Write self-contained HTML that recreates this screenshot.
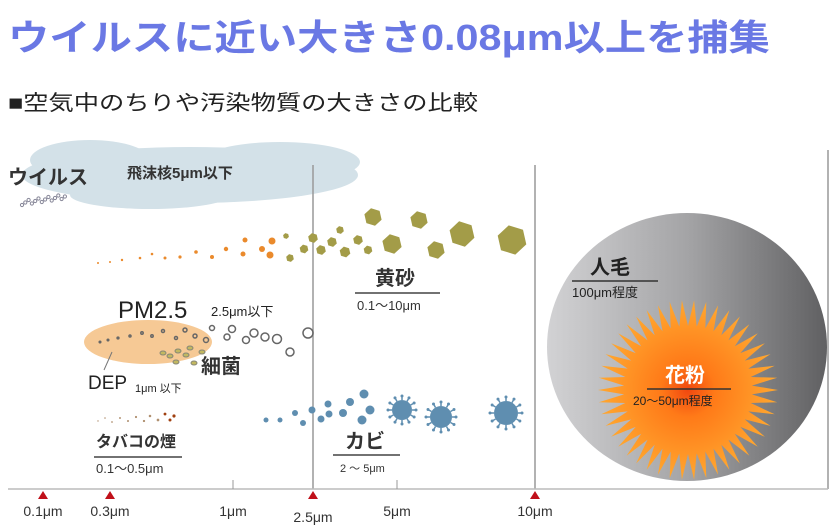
<!DOCTYPE html>
<html><head><meta charset="utf-8"><style>
body{margin:0;background:#fff}
svg{display:block;font-family:"Liberation Sans","Noto Sans CJK JP",sans-serif}
</style></head><body>
<svg id="c" width="840" height="532" viewBox="0 0 840 532">
<defs>
<linearGradient id="hair" x1="0" y1="0" x2="1" y2="0"><stop offset="0" stop-color="#d2d2d4"/><stop offset="0.5" stop-color="#a4a4a6"/><stop offset="1" stop-color="#606062"/></linearGradient>
<radialGradient id="pollen" cx="0.5" cy="0.5" r="0.5"><stop offset="0" stop-color="#f04810"/><stop offset="0.3" stop-color="#ff7a18"/><stop offset="1" stop-color="#ffa830"/></radialGradient>
</defs>
<text x="8" y="50" font-size="36" font-weight="bold" fill="#6a78e4" textLength="762" lengthAdjust="spacingAndGlyphs">ウイルスに近い大きさ0.08μm以上を捕集</text>
<text x="8" y="110" font-size="21" fill="#222" textLength="470" lengthAdjust="spacingAndGlyphs">■空気中のちりや汚染物質の大きさの比較</text>

<g>
<ellipse cx="190" cy="175" rx="168" ry="28" fill="#d3e1e8"/>
<ellipse cx="90" cy="160" rx="60" ry="20" fill="#d3e1e8"/>
<ellipse cx="280" cy="162" rx="80" ry="20" fill="#d3e1e8"/>
<ellipse cx="150" cy="195" rx="80" ry="14" fill="#d3e1e8"/>
</g>
<text x="8" y="184" font-size="20" font-weight="bold" fill="#333">ウイルス</text>
<text x="127" y="178" font-size="15" font-weight="bold" fill="#333">飛沫核5μm以下</text>
<g id="virusDots"></g>

<g id="lines"></g>
<line x1="828" y1="150" x2="828" y2="489" stroke="#999" stroke-width="1.5"/>

<g id="dust"></g>
<text x="375" y="285" font-size="20" font-weight="bold" fill="#333">黄砂</text>
<line x1="355" y1="293" x2="440" y2="293" stroke="#444" stroke-width="1.5"/>
<text x="357" y="310" font-size="13" fill="#333">0.1～10μm</text>

<ellipse cx="148" cy="342" rx="64" ry="22" fill="#f6c995"/>
<text x="118" y="318" font-size="24" fill="#222">PM2.5</text>
<text x="211" y="316" font-size="13" fill="#222">2.5μm以下</text>
<g id="pm"></g>
<text x="201" y="373" font-size="20" fill="#333" font-weight="bold">細菌</text>
<line x1="112" y1="352" x2="104" y2="370" stroke="#777"/>
<text x="88" y="389" font-size="19" fill="#222">DEP</text>
<text x="135" y="392" font-size="11" fill="#222">1μm 以下</text>

<g id="smoke"></g>
<text x="96" y="447" font-size="16" font-weight="bold" fill="#333">タバコの煙</text>
<line x1="94" y1="457" x2="182" y2="457" stroke="#444" stroke-width="1.5"/>
<text x="96" y="473" font-size="13" fill="#333">0.1～0.5μm</text>

<g id="mold"></g>
<text x="345" y="448" font-size="20" font-weight="bold" fill="#333">カビ</text>
<line x1="333" y1="455" x2="400" y2="455" stroke="#444" stroke-width="1.5"/>
<text x="340" y="472" font-size="11" fill="#333">2 ～ 5μm</text>

<ellipse cx="687" cy="347" rx="140" ry="134" fill="url(#hair)"/>
<rect x="829" y="150" width="11" height="340" fill="#fff"/>
<text x="590" y="274" font-size="20" font-weight="bold" fill="#222">人毛</text>
<line x1="572" y1="281" x2="658" y2="281" stroke="#333" stroke-width="1.5"/>
<text x="572" y="297" font-size="13" fill="#222">100μm程度</text>
<g id="pollenG"></g>
<text x="665" y="382" font-size="20" font-weight="bold" fill="#fff">花粉</text>
<line x1="647" y1="389" x2="731" y2="389" stroke="#333" stroke-width="1.5"/>
<text x="633" y="405" font-size="12" fill="#222">20～50μm程度</text>

<line x1="8" y1="489" x2="828" y2="489" stroke="#bbb" stroke-width="1.5"/>
<g id="axis"></g>
</svg>
<script>
const tickLabels=["0.1μm","0.3μm","1μm","2.5μm","5μm","10μm"];
const tickX=[43,110,233,313,397,535];
const tickMarked=[true,true,false,true,false,true];
const dividerAt=["2.5μm","10μm"];
const NS="http://www.w3.org/2000/svg";
function mk(p,t,a){const e=document.createElementNS(NS,t);for(const k in a)e.setAttribute(k,a[k]);p.appendChild(e);return e;}
const ax=document.getElementById('axis');
tickLabels.forEach((l,i)=>{
  const x=tickX[i];
  if(tickMarked[i]){const p=mk(ax,'polygon',{points:`${x-5},499 ${x+5},499 ${x},491`,fill:'#c0101a'});
    
    }
  else mk(ax,'line',{x1:x,y1:480,x2:x,y2:489,stroke:'#999'});
  const t=mk(ax,'text',{x:x,y:i==3?522:516,'font-size':14,'text-anchor':'middle',fill:'#333'});t.textContent=l;
  
  
});
const ln=document.getElementById('lines');
dividerAt.forEach(l=>{const x=tickX[tickLabels.indexOf(l)];
  const e=mk(ln,'line',{x1:x,y1:165,x2:x,y2:489,stroke:'#999','stroke-width':1.5});
  
  });
const vd=document.getElementById('virusDots');
for(let i=0;i<14;i++)mk(vd,'circle',{cx:22+i*3.3,cy:205-(i%3)*2-i*0.5,r:1.6,fill:'none',stroke:'#889',"stroke-width":1});
const d=document.getElementById('dust');
const orange=[[98,263,1],[110,262,1],[122,260,1.2],[140,258,1.3],[152,254,1.3],[165,258,1.5],[180,257,1.6],[196,252,1.8],[212,257,2],[226,249,2.2],[243,254,2.5],[245,240,2.5],[262,249,3],[272,241,3.5],[270,255,3.5]];
orange.forEach(p=>mk(d,'circle',{cx:p[0],cy:p[1],r:p[2],fill:'#ea8a2c'}));
function hex(cx,cy,r,c){let pts=[];for(let k=0;k<6;k++){const a=k*Math.PI/3+0.3;pts.push((cx+r*Math.cos(a)).toFixed(1)+','+(cy+r*Math.sin(a)).toFixed(1));}mk(d,'polygon',{points:pts.join(' '),fill:c});}
[[286,236,3],[290,258,4],[304,249,4.5],[313,238,5],[321,250,5],[332,242,5],[340,230,4],[345,252,5.5],[358,240,5],[368,250,4.5],[373,217,9],[392,244,10],[419,220,9],[436,250,9],[462,234,13],[512,240,15]].forEach(h=>hex(h[0],h[1],h[2],'#a39c48'));
const pm=document.getElementById('pm');
[[100,342,0.8],[108,340,0.8],[118,338,0.9],[130,336,1],[142,333,1.2],[152,336,1.2],[163,331,1.5],[176,338,1.5],[185,330,2],[195,336,2],[206,340,2.5],[212,328,2.5],[227,337,3],[232,329,3.5],[246,340,3.5],[254,333,4],[265,337,4],[277,339,4.5],[290,352,4],[308,333,5]].forEach(p=>mk(pm,'circle',{cx:p[0],cy:p[1],r:p[2],fill:'none',stroke:'#666','stroke-width':1.5}));
[[163,353],[170,356],[178,351],[186,355],[176,362],[194,363],[190,348],[202,352]].forEach(p=>mk(pm,'ellipse',{cx:p[0],cy:p[1],rx:3,ry:2,fill:'#c2b860',stroke:'#887'}));
const sm=document.getElementById('smoke');
[[98,421],[105,418],[112,422],[120,418],[128,421],[136,417],[144,421],[150,416],[158,420],[165,414],[170,420],[174,416]].forEach((p,i)=>mk(sm,'circle',{cx:p[0],cy:p[1],r:0.7+i*0.08,fill:i>8?'#a04010':'#b09070'}));
const mo=document.getElementById('mold');
[[266,420,2.5],[280,420,2.5],[295,413,3],[303,423,3],[312,410,3.5],[321,419,3.5],[328,404,3.5],[329,414,3.5],[343,413,4],[350,402,4],[362,420,4.5],[364,394,4.5],[370,410,4.5]].forEach(p=>mk(mo,'circle',{cx:p[0],cy:p[1],r:p[2],fill:'#5f8eb0'}));
function virus(cx,cy,r){for(let k=0;k<12;k++){const a=k*Math.PI/6;mk(mo,'line',{x1:cx+r*Math.cos(a),y1:cy+r*Math.sin(a),x2:cx+(r+4)*Math.cos(a),y2:cy+(r+4)*Math.sin(a),stroke:'#5f8eb0','stroke-width':1.5});mk(mo,'circle',{cx:cx+(r+4)*Math.cos(a),cy:cy+(r+4)*Math.sin(a),r:1.5,fill:'#5f8eb0'});}mk(mo,'circle',{cx:cx,cy:cy,r:r,fill:'#5f8eb0'});}
virus(402,410,10);virus(441,417,11);virus(506,413,12);
const pg=document.getElementById('pollenG');
let pts=[];const N=46;for(let k=0;k<N*2;k++){const a=k*Math.PI/N;const r=k%2?64:90;pts.push((688+r*Math.cos(a)).toFixed(1)+','+(390+r*Math.sin(a)).toFixed(1));}
mk(pg,'polygon',{points:pts.join(' '),fill:'url(#pollen)'});
</script>
</body></html>
